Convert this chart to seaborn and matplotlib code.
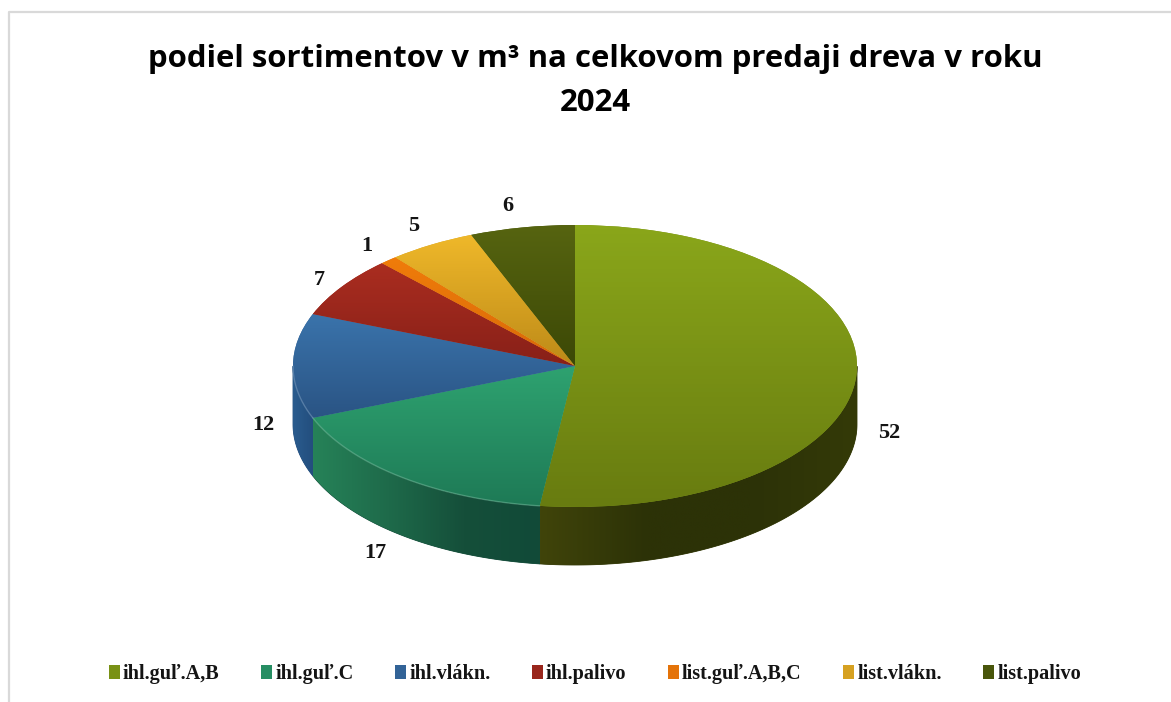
import numpy as np
import seaborn as sns
import matplotlib
matplotlib.use("Agg")
import matplotlib.pyplot as plt
from matplotlib.colors import LinearSegmentedColormap
from matplotlib.lines import Line2D
from matplotlib.patches import PathPatch
from matplotlib.path import Path

title = "podiel sortimentov v m³ na celkovom predaji dreva v roku\n2024"
names = ["ihl.guľ.A,B", "ihl.guľ.C", "ihl.vlákn.", "ihl.palivo", "list.guľ.A,B,C", "list.vlákn.", "list.palivo"]
values = [52, 17, 12, 7, 1, 5, 6]

# top surface gradient, upper and lower colour of every slice
top_hi = ["#8aa61a", "#2ea270", "#3a73ab", "#aa2d20", "#f07c0a", "#efb82a", "#566410"]
top_lo = ["#687c10", "#1e7a56", "#2a5484", "#882018", "#d86a08", "#bd8a18", "#3c4806"]
# side wall gradient, left to right
side_cols = [["#40440a", "#2c3207", "#2c3207", "#343a08"],
             ["#268258", "#1e6a4a", "#154f3a", "#114a38"],
             ["#2a5c8e", "#234e7e"],
             ["#882018"], ["#d86a08"], ["#bd8a18"], ["#3c4806"]]

W, H = 1171, 702
cx, cy, rx, ry, depth = 575, 366, 282, 141, 58

sns.set_theme(style="white")
plt.rcParams['font.family'] = ['Liberation Serif', 'DejaVu Sans']
palette = sns.color_palette(top_hi)

fig = plt.figure(figsize=(W / 100, H / 100), dpi=100)
ax = fig.add_axes([0, 0, 1, 1])
xlim = (-cx / rx, (W - cx) / rx)
ylim = ((cy - H) / ry, cy / ry)

# chart frame, only top and left are inside the crop
fig.add_artist(Line2D([9 / W, 9 / W, 1], [0, 1 - 12 / H, 1 - 12 / H], transform=fig.transFigure,
                      color="#d9d9d9", lw=1.6))

wedges, _ = ax.pie(values, colors=palette, startangle=90, counterclock=False, radius=1,
                   wedgeprops=dict(lw=0, zorder=3))
ax.set_aspect("auto")

d = depth / ry
for i, w in enumerate(wedges):
    # top of the slice
    bb = w.get_path().transformed(w.get_patch_transform()).get_extents()
    cm = LinearSegmentedColormap.from_list("t%d" % i, [top_hi[i], top_lo[i]])
    im = ax.imshow(np.linspace(0, 1, 64).reshape(-1, 1), cmap=cm, aspect="auto", zorder=4,
                   extent=(bb.x0, bb.x1, bb.y0, bb.y1), origin="upper")
    im.set_clip_path(w)

    # side wall, only the part on the front half
    t = np.radians(np.linspace(w.theta1, w.theta2, 400))
    t = t[np.sin(t) <= 1e-6]
    if len(t) < 2:
        continue
    xs, ys = np.cos(t), np.sin(t)
    verts = np.r_[np.c_[xs, ys], np.c_[xs[::-1], ys[::-1] - d], [[xs[0], ys[0]]]]
    # solid patch below the gradient so no white seam shows between slices
    patch = PathPatch(Path(verts), fc=side_cols[i][-1], ec=side_cols[i][-1], lw=0.6, zorder=1.9,
                      transform=ax.transData)
    ax.add_patch(patch)
    cols = side_cols[i] if len(side_cols[i]) > 1 else side_cols[i] * 2
    cm = LinearSegmentedColormap.from_list("s%d" % i, cols)
    im = ax.imshow(np.linspace(0, 1, 128).reshape(1, -1), cmap=cm, aspect="auto", zorder=2,
                   extent=(xs.min(), xs.max(), -1 - d, 0.2))
    im.set_clip_path(patch)

    # faint light rim on the front edge of the teal and blue slices
    if i in (1, 2):
        ax.plot(xs, ys, color=sns.light_palette(top_hi[i], 3)[1], lw=1, alpha=0.4, zorder=5)

ax.set_xlim(xlim)
ax.set_ylim(ylim)

# data labels
label_px = [(889, 433), (375, 553), (263, 425), (319, 280), (367, 246), (414, 226), (508, 206)]
for v, (x, y) in zip(values, label_px):
    fig.text(x / W, 1 - y / H, str(v), ha="center", va="center", fontsize=16, fontweight="bold", color="#141414")

fig.text(595 / W, 1 - 81 / H, title, ha="center", va="center", fontsize=22.4, fontweight="bold",
         family=["Open Sans", "DejaVu Sans"], color="black", linespacing=1.62)

handles = []
for i, w in enumerate(wedges):
    w.set_facecolor(sns.blend_palette([top_hi[i], top_lo[i]], 3)[1])
    handles.append(w)
fig.legend(handles, names, loc="center", bbox_to_anchor=(595 / W, 1 - 674 / H), ncol=7, frameon=False,
           prop=dict(family="Liberation Serif", weight="bold", size=14.6), handlelength=0.54, handleheight=0.7,
           handletextpad=0.15, columnspacing=2.05, labelcolor="#141414")

ax.axis("off")
fig.savefig("out.png", dpi=100)
